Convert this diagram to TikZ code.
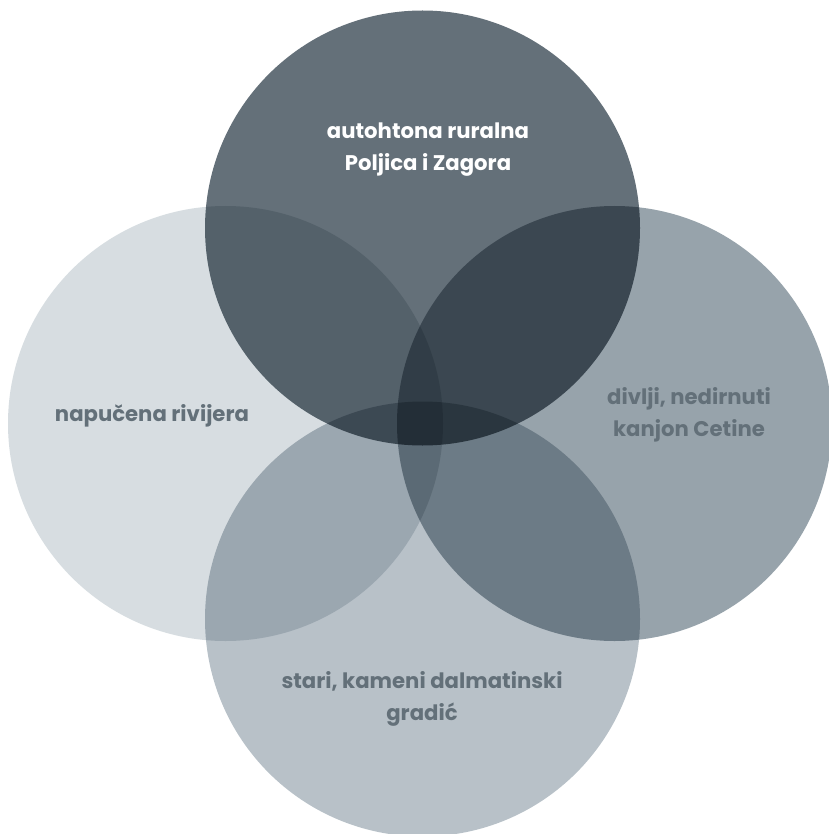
\documentclass[tikz,border=0pt]{standalone}
\usepackage{fontspec}
\setmainfont{Poppins}
\definecolor{ctop}{HTML}{647079}
\definecolor{cleft}{HTML}{D7DDE1}
\definecolor{cright}{HTML}{97A3AB}
\definecolor{cbottom}{HTML}{B8C1C8}
\definecolor{ctext}{HTML}{637079}
\tikzset{
  venn/.style={circle, minimum size=435pt, inner sep=0pt, draw=none},
  lbl/.style={align=center, font=\fontsize{21.2}{32}\selectfont\bfseries, text=ctext},
}
\begin{document}
\begin{tikzpicture}[x=1pt,y=-1pt]
\useasboundingbox[fill=white] (0,0) rectangle (828,834);
\begin{scope}[blend group=multiply]
\node[venn, fill=cleft] (left) at (225.5,423.5) {};
\node[venn, fill=cright] (right) at (614.5,423.5) {};
\node[venn, fill=cbottom] (bottom) at (422.5,619) {};
\node[venn, fill=ctop] (top) at (422.5,228) {};
\end{scope}
\node[lbl, text=white] (ttop) at (428,150) {autohtona ruralna\\Poljica i Zagora};
\node[lbl] (tleft) at (152,416) {napučena rivijera};
\node[lbl] (tright) at (689,415) {divlji, nedirnuti\\kanjon Cetine};
\node[lbl] (tbottom) at (422,699) {stari, kameni dalmatinski\\gradić};
\end{tikzpicture}
\end{document}
